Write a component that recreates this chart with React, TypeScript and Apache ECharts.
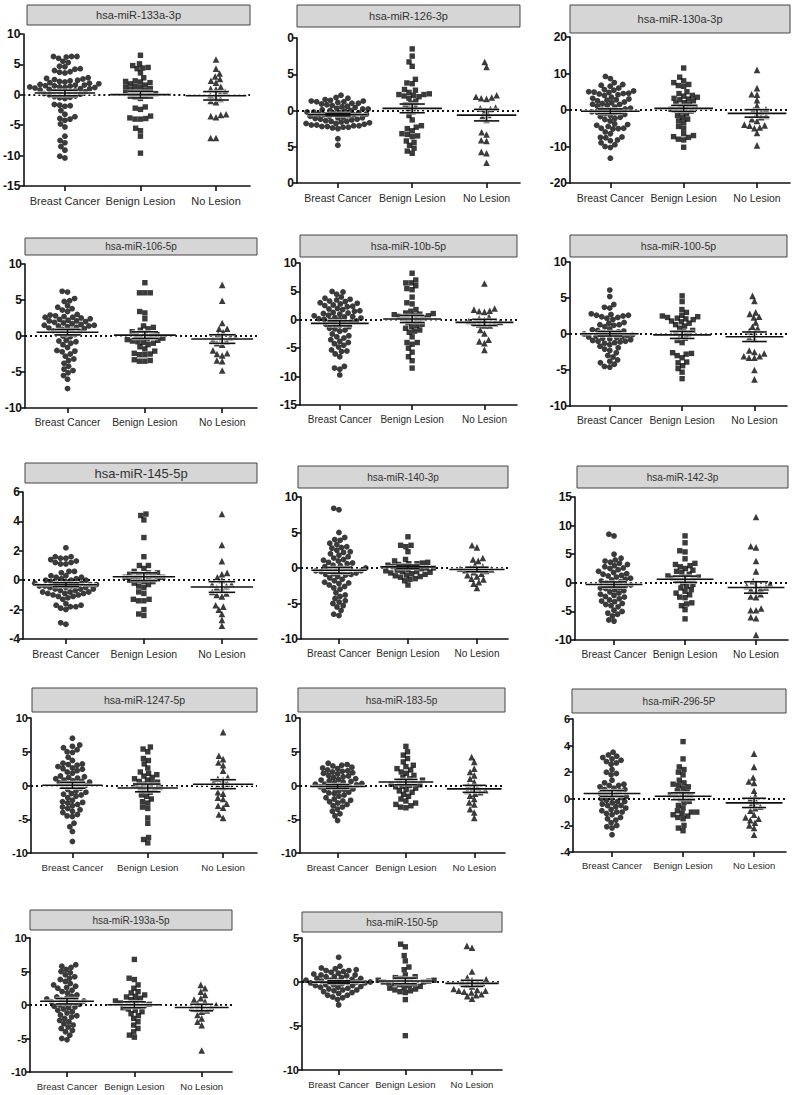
import React, { useEffect, useRef } from "react";
import * as echarts from "echarts";

const categories = ["Breast Cancer", "Benign Lesion", "No Lesion"];

const titles = [
  "hsa-miR-133a-3p", "hsa-miR-126-3p", "hsa-miR-130a-3p",
  "hsa-miR-106-5p", "hsa-miR-10b-5p", "hsa-miR-100-5p",
  "hsa-miR-145-5p", "hsa-miR-140-3p", "hsa-miR-142-3p",
  "hsa-miR-1247-5p", "hsa-miR-183-5p", "hsa-miR-296-5P",
  "hsa-miR-193a-5p", "hsa-miR-150-5p",
];

// y-axis ranges [min, max, interval]
const yMins = [-15, -10, -20, -10, -15, -10, -4, -10, -10, -10, -10, -4, -10, -10];
const yMaxs = [10, 10, 20, 10, 10, 10, 6, 10, 15, 10, 10, 6, 10, 5];
const yIntervals = [5, 5, 10, 5, 5, 5, 2, 5, 5, 5, 5, 2, 5, 5];

// ---- values (Breast Cancer / Benign Lesion / No Lesion) ----
const bc133a = [6.3,6.2,6.3,6.3,5.5,5.3,6.0,4.7,4.6,4.2,4.0,3.7,3.6,3.8,4.3,2.8,2.7,2.6,2.5,2.4,2.3,2.2,2.1,2.0,1.9,1.8,1.7,1.6,1.6,1.5,1.5,1.4,1.3,1.3,1.2,1.2,1.1,1.0,1.0,0.9,0.8,0.7,0.6,0.5,0.5,0.4,0.3,0.2,0.1,0.0,-0.2,-0.3,-0.4,-0.5,-0.6,-1.6,-1.7,-1.8,-1.9,-2.6,-3.2,-3.6,-3.9,-4.0,-4.2,-4.8,-5.3,-6.8,-7.5,-7.9,-8.5,-9.1,-10.1,-10.4];
const bl133a = [6.5,5.1,4.8,4.5,4.4,4.3,3.6,2.8,2.3,2.2,2.1,2.0,1.8,1.6,1.4,1.3,1.2,1.0,0.9,0.7,0.5,0.4,0.3,0.2,0.1,0.0,-0.2,-0.4,-0.6,-2.0,-2.2,-2.4,-3.5,-3.8,-3.9,-4.0,-4.0,-5.5,-5.9,-6.8,-9.6];
const nl133a = [5.8,4.3,3.5,2.6,2.3,2.0,3.0,1.3,1.0,0.9,0.5,0.2,-0.1,-0.3,-0.7,-1.0,-1.2,-3.2,-3.5,-3.7,-3.3,-7.1,-7.1];

const bc126 = [2.1,1.8,1.7,1.5,1.3,1.2,1.3,1.2,1.1,1.0,0.9,0.8,0.7,0.6,0.5,0.4,0.3,0.2,0.1,0.0,0.0,-0.1,-0.2,-0.2,-0.3,-0.4,-0.5,-0.5,-0.6,-0.7,-0.8,-0.8,-0.9,-1.0,-1.0,-1.1,-1.2,-1.3,-1.4,-1.5,-1.6,-1.7,-1.8,-1.9,-2.0,-2.1,-2.1,-2.2,-2.3,-2.3,-2.4,-2.5,-2.2,-1.8,-3.9,-4.8,1.4,1.0,0.2,-0.3,-0.6,-1.2,-1.5,-2.0];
const bl126 = [8.5,7.5,6.7,6.1,4.3,3.8,3.7,2.9,2.8,2.5,2.3,2.2,2.2,2.1,2.0,1.9,1.7,1.3,1.0,0.8,0.5,0.2,-0.2,-0.7,-1.3,-2.1,-2.3,-2.5,-2.8,-3.2,-3.3,-3.5,-3.6,-4.2,-4.4,-4.8,-5.2,-5.6,-5.9];
const nl126 = [6.7,6.0,2.1,1.9,1.8,1.7,1.6,0.4,0.3,0.2,0.0,-0.6,-0.8,-1.3,-3.0,-3.3,-4.1,-4.2,-5.7,-5.9,-7.2];

const bc130a = [9.2,8.6,7.5,7.0,6.8,6.5,6.0,5.6,5.2,5.0,4.8,4.6,4.5,4.4,4.2,4.0,3.5,3.2,3.0,2.8,2.5,2.2,2.0,1.8,1.5,1.2,1.0,0.8,0.5,0.3,0.0,-0.3,-0.5,-0.8,-1.0,-1.2,-1.5,-1.8,-2.0,-2.3,-2.6,-3.0,-3.8,-4.0,-4.2,-4.5,-5.0,-5.2,-5.1,-5.0,-6.0,-6.5,-7.5,-7.4,-7.6,-8.2,-8.4,-9.0,-9.5,-10.0,-10.3,-13.2,1.6,0.2,-0.6,4.9,5.4,2.7];
const bl130a = [11.5,9.0,8.0,7.5,7.0,6.5,6.7,5.0,4.5,4.0,3.8,3.5,3.2,3.0,2.8,2.5,2.0,1.8,1.5,1.0,0.5,0.0,-0.5,-1.0,-1.5,-2.0,-2.5,-3.0,-3.5,-4.5,-5.0,-6.5,-7.0,-7.3,-7.5,-8.0,-8.2,-10.2,0.8,0.2,-0.3];
const nl130a = [11.0,6.0,4.3,4.2,2.7,1.2,0.2,0.0,-0.5,-1.2,-1.6,-2.0,-2.5,-3.0,-4.0,-4.3,-4.2,-4.8,-5.0,-6.3,-9.7];

const bc106 = [6.2,6.1,5.2,4.8,4.9,4.2,4.0,3.8,3.6,3.4,3.0,2.9,2.8,2.7,2.6,2.5,2.4,2.3,2.2,2.1,2.0,1.9,1.8,1.7,1.6,1.5,1.5,1.4,1.3,1.2,1.1,1.0,0.9,0.8,0.6,0.5,0.4,0.2,0.0,-0.1,-0.6,-0.7,-0.8,-1.0,-1.2,-1.6,-2.0,-2.1,-2.2,-2.5,-2.8,-3.2,-3.4,-3.8,-4.2,-4.6,-4.8,-5.1,-5.5,-6.0,-7.3,2.6,1.4,2.1,0.7];
const bl106 = [7.4,6.0,6.0,6.0,3.4,3.2,2.4,1.4,1.2,1.0,0.8,0.6,0.4,0.2,0.0,-0.2,-0.4,-0.5,-0.6,-0.7,-0.8,-0.9,-1.0,-1.2,-1.5,-1.8,-2.1,-2.4,-2.5,-2.6,-2.6,-3.3,-3.4,-3.5,-3.5,0.1,-0.3];
const nl106 = [7.1,4.9,1.8,1.0,1.0,0.5,0.2,-0.1,-0.2,-0.3,-0.5,-0.8,-1.0,-1.2,-2.0,-2.5,-2.4,-2.7,-3.4,-3.5,-4.8];

const bc10b = [5.0,4.9,4.5,4.0,3.8,3.5,3.3,3.2,3.0,2.8,2.6,2.5,2.3,2.0,1.8,1.5,1.3,1.2,1.0,0.8,0.6,0.5,0.3,0.2,0.1,0.0,-0.2,-0.3,-0.5,-0.8,-1.0,-1.5,-1.6,-1.8,-2.0,-2.5,-2.8,-3.0,-3.2,-3.5,-3.8,-4.2,-4.5,-4.8,-5.3,-5.5,-5.6,-6.0,-6.5,-8.2,-8.5,-8.7,-9.7,1.6,0.4,2.4,1.1,-0.1,0.7,3.6,2.9,1.9,-0.6,-4.0,-1.2];
const bl10b = [8.2,7.0,6.5,6.5,6.0,5.5,5.3,4.0,3.0,2.8,1.8,1.5,1.2,1.0,0.8,0.6,0.5,0.3,0.2,0.0,-0.2,-0.5,-0.8,-1.0,-1.2,-1.5,-1.8,-2.0,-2.2,-3.0,-4.0,-4.3,-4.0,-5.0,-5.7,-6.5,-7.2,-8.5,1.1,0.7,0.9];
const nl10b = [6.4,2.0,1.8,1.6,1.5,1.4,0.5,0.2,0.0,-0.2,-0.4,-0.5,-0.6,-0.8,-1.0,-1.0,-1.8,-2.4,-3.5,-3.8,-4.1,-5.3];

const bc100 = [6.1,5.2,4.1,3.6,3.7,2.8,2.7,2.6,2.5,2.4,2.3,2.2,2.0,1.6,1.5,1.3,1.2,1.0,0.7,0.5,0.4,0.3,0.2,0.1,0.0,-0.1,-0.2,-0.3,-0.4,-0.5,-0.6,-0.7,-0.8,-0.9,-1.0,-1.1,-1.2,-1.3,-1.5,-1.7,-1.9,-2.1,-2.3,-2.6,-3.0,-3.2,-3.6,-3.8,-4.0,-4.2,-4.5,-4.6,2.6,0.6,-0.4,-1.0,1.3,0.0];
const bl100 = [5.3,4.5,3.4,3.0,2.6,2.5,2.4,2.3,2.2,2.1,2.0,1.8,1.5,1.3,1.1,0.8,0.5,0.3,0.0,-0.3,-0.6,-0.9,-1.2,-2.6,-2.7,-2.8,-3.0,-3.3,-3.9,-4.0,-4.4,-4.8,-5.3,-6.2,0.1,1.7];
const nl100 = [5.3,4.6,3.0,2.8,2.4,2.3,1.6,1.0,0.8,0.4,0.2,-0.5,-0.7,-2.3,-2.7,-3.1,-3.3,-3.3,-3.1,-2.5,-5.0,-6.3];

const bc145 = [2.2,1.6,1.6,1.5,1.5,1.4,1.3,1.2,1.2,1.1,1.1,0.6,0.6,0.5,0.3,0.2,0.2,0.1,0.0,0.0,-0.1,-0.1,-0.2,-0.2,-0.3,-0.3,-0.3,-0.4,-0.4,-0.5,-0.5,-0.6,-0.6,-0.7,-0.7,-0.8,-0.8,-0.9,-0.9,-1.0,-1.0,-1.1,-1.2,-1.3,-1.6,-1.7,-1.8,-1.9,-2.0,-1.8,-1.7,-2.9,-3.0,0.1,-0.2,-0.4,-0.6,-0.8,0.3,-0.3,-0.5,-1.1,-0.9,0.0];
const bl145 = [4.5,4.4,4.1,2.9,1.6,1.0,1.0,0.8,0.6,0.5,0.5,0.4,0.3,0.3,0.2,0.2,0.1,0.1,0.0,0.0,-0.1,-0.2,-0.3,-0.4,-0.5,-0.9,-0.8,-1.3,-1.4,-1.4,-1.3,-2.0,-2.3,-2.4,0.4,0.2,-0.1];
const nl145 = [4.5,2.4,1.3,0.5,0.4,0.2,0.0,-0.3,-0.4,-0.5,-0.6,-0.8,-0.9,-1.0,-1.1,-1.7,-1.8,-2.0,-2.3,-2.7,-3.1,-0.3];

const bc140 = [8.2,8.4,5.0,4.3,4.0,3.9,3.5,3.3,3.0,2.8,2.5,2.3,2.2,2.0,1.8,1.6,1.4,1.2,1.0,0.8,0.6,0.4,0.2,0.0,-0.1,-0.2,-0.3,-0.4,-0.5,-0.6,-0.7,-0.8,-0.9,-1.0,-1.2,-1.4,-1.6,-2.0,-2.1,-2.2,-2.4,-2.6,-2.8,-3.0,-3.5,-3.8,-4.0,-4.3,-4.6,-4.8,-5.0,-5.3,-5.5,-6.0,-6.5,-6.7,0.3,-0.4,-0.9,1.1,2.9,-1.8,0.7,-0.1];
const bl140 = [4.4,3.2,3.2,3.0,2.3,1.2,1.0,0.8,0.7,0.6,0.5,0.4,0.3,0.2,0.1,0.0,-0.1,-0.2,-0.3,-0.4,-0.5,-0.6,-0.7,-0.8,-0.9,-1.0,-1.1,-1.2,-1.3,-1.5,-1.6,-1.8,-2.4,0.0,-0.5,0.6];
const nl140 = [3.2,2.9,1.4,1.2,1.0,0.4,0.2,0.0,-0.1,-0.2,-0.3,-0.4,-0.6,-0.8,-1.0,-1.2,-1.5,-1.6,-2.0,-2.2,-2.8,-0.2];

const bc142 = [8.5,8.2,5.0,4.3,4.0,3.8,3.6,3.4,3.2,3.0,2.8,2.5,2.3,2.0,1.8,1.5,1.2,1.0,0.8,0.5,0.3,0.0,-0.2,-0.4,-0.6,-0.8,-1.0,-1.2,-1.4,-1.6,-1.8,-2.0,-2.2,-2.5,-2.8,-3.0,-3.3,-3.6,-3.8,-4.0,-4.2,-4.8,-5.0,-5.3,-5.5,-5.8,-6.5,-6.7,0.2,-0.5,1.3,2.6,-2.4,-0.9,0.6,-3.2,1.6];
const bl142 = [8.2,7.0,5.6,5.4,4.2,3.4,3.2,3.0,2.8,2.5,2.2,2.0,1.8,1.5,1.2,1.0,0.8,0.5,0.3,0.0,-0.3,-0.6,-0.9,-1.2,-1.5,-1.8,-2.1,-2.5,-2.6,-3.5,-3.7,-4.0,-4.7,-6.3,0.7,1.0];
const nl142 = [11.5,6.4,6.2,3.8,2.0,0.3,-0.2,-0.5,-0.6,-0.8,-1.0,-1.2,-1.5,-2.0,-2.4,-2.5,-4.5,-4.8,-4.8,-6.0,-6.2,-9.1];

const bc1247 = [7.0,6.0,5.8,5.6,5.3,5.0,4.9,4.2,3.7,3.3,3.2,3.1,3.0,2.8,2.6,2.4,2.2,2.0,1.8,1.4,1.3,1.2,1.0,0.8,0.6,0.5,0.4,0.2,0.0,-0.2,-0.4,-0.6,-0.8,-1.0,-1.2,-1.4,-1.6,-1.8,-2.2,-2.4,-2.6,-2.8,-3.0,-3.2,-3.4,-3.6,-3.8,-4.0,-4.3,-4.5,-4.6,-5.6,-6.1,-6.8,-8.3,0.3,-0.1,1.1,-1.3,2.5,0.7,-2.5];
const bl1247 = [5.7,5.4,5.0,4.0,3.7,3.2,2.6,2.0,1.8,1.6,1.4,1.2,1.0,0.8,0.6,0.4,0.2,0.0,-0.2,-0.4,-0.6,-0.8,-1.0,-1.4,-1.6,-2.0,-2.4,-2.6,-3.2,-3.4,-4.8,-5.6,-7.7,-8.0,-8.5,0.5,-0.3];
const nl1247 = [7.9,4.4,3.9,3.4,3.0,2.2,1.2,1.0,0.8,0.5,0.3,0.0,-0.2,-1.0,-1.2,-1.8,-2.0,-2.7,-3.0,-3.3,-4.3,-4.8];

const bc183 = [3.3,3.1,3.0,2.9,2.7,2.6,2.5,2.3,2.1,2.0,1.9,1.7,1.5,1.3,1.2,1.0,0.9,0.8,0.6,0.5,0.4,0.3,0.2,0.1,0.0,-0.1,-0.2,-0.3,-0.5,-0.6,-0.8,-1.0,-1.2,-1.4,-1.6,-1.8,-2.0,-2.2,-2.4,-2.6,-2.8,-3.0,-3.2,-3.5,-3.8,-4.2,-4.5,-5.2,0.7,-0.4,1.4,-1.1,2.2,0.2,-2.3,1.8,-0.7];
const bl183 = [5.8,5.0,4.5,4.0,3.5,3.0,2.8,2.5,2.3,2.0,1.8,1.5,1.2,1.0,0.8,0.6,0.4,0.2,0.0,-0.2,-0.4,-0.6,-0.8,-1.0,-1.3,-1.6,-2.0,-2.3,-2.6,-2.8,-3.0,-3.2,-3.3,0.1,0.5,-0.1];
const nl183 = [4.2,3.5,2.5,2.0,1.5,1.0,0.5,0.0,-0.3,-0.5,-0.7,-1.0,-1.2,-1.5,-2.0,-2.5,-2.8,-3.5,-4.0,-4.8,-0.8];

const bc296 = [3.5,3.3,3.2,3.1,3.0,2.9,2.8,2.7,2.6,2.2,2.0,1.9,1.8,1.4,1.2,1.1,1.0,0.9,0.8,0.7,0.6,0.5,0.4,0.3,0.2,0.1,0.0,-0.1,-0.2,-0.3,-0.4,-0.5,-0.6,-0.7,-0.8,-0.9,-1.0,-1.1,-1.2,-1.4,-1.5,-1.6,-1.8,-2.0,-2.1,-2.2,-2.7,0.3,-0.2,0.7,-0.5,1.0,-1.0,0.1];
const bl296 = [4.3,3.0,2.4,2.2,2.0,1.8,1.4,1.2,1.1,1.0,0.9,0.8,0.6,0.5,0.4,0.3,0.2,0.1,0.0,-0.2,-0.3,-0.5,-0.7,-0.9,-1.0,-1.1,-1.2,-1.3,-1.4,-1.5,-2.0,-2.2,-2.4,0.2,-1.0];
const nl296 = [3.4,2.4,1.6,1.3,1.2,0.6,0.2,0.0,-0.2,-0.4,-0.6,-0.9,-1.2,-1.4,-1.5,-1.6,-2.0,-2.2,-2.7,-0.7,-1.8];

const bc193a = [6.0,5.8,5.6,5.3,5.0,4.8,4.5,4.2,4.0,3.8,3.5,3.2,3.0,2.8,2.5,2.2,2.0,1.8,1.5,1.3,1.0,0.8,0.6,0.5,0.4,0.2,0.0,-0.2,-0.4,-0.6,-0.8,-1.0,-1.2,-1.5,-1.8,-2.0,-2.3,-2.5,-2.8,-3.0,-3.3,-3.5,-3.8,-4.0,-4.5,-5.0,-5.2,0.7,-0.3,1.2,2.6,-1.6,0.1,0.9];
const bl193a = [6.8,4.0,3.8,3.0,2.5,2.0,1.8,1.5,1.2,1.0,0.8,0.5,0.3,0.2,0.0,-0.2,-0.4,-0.6,-0.8,-1.0,-1.3,-1.6,-2.0,-2.5,-3.0,-3.5,-4.0,-4.5,-4.8,0.1,0.6,-0.1,1.3];
const nl193a = [3.0,2.5,2.0,1.5,1.0,0.5,0.2,0.0,-0.2,-0.4,-0.6,-0.8,-1.0,-1.5,-2.0,-2.5,-3.0,-6.8,-0.3,0.8];

const bc150 = [2.8,1.8,1.6,1.5,1.4,1.3,1.2,1.1,1.0,0.9,0.8,0.7,0.6,0.5,0.4,0.3,0.2,0.1,0.0,0.0,-0.1,-0.2,-0.3,-0.4,-0.5,-0.6,-0.7,-0.8,-0.9,-1.0,-1.1,-1.2,-1.3,-1.5,-1.7,-1.8,-2.0,-2.6,0.2,-0.3,0.6,-0.6,0.1,-0.1,0.4,-0.4,1.3,-1.5,0.0,0.8,-0.9];
const bl150 = [4.3,4.0,3.0,2.4,1.7,1.4,0.8,0.6,0.5,0.4,0.3,0.2,0.1,0.0,0.0,-0.1,-0.2,-0.3,-0.4,-0.5,-0.6,-0.7,-0.8,-0.9,-1.0,-1.1,-1.2,-2.0,-6.1,0.2,-0.2,0.1];
const nl150 = [4.1,3.9,1.2,0.5,0.3,0.2,0.0,-0.1,-0.2,-0.3,-0.5,-0.8,-1.0,-1.0,-1.1,-1.2,-1.4,-1.5,-1.6,-1.9,-0.9];

const panelValues = [
  [bc133a, bl133a, nl133a], [bc126, bl126, nl126], [bc130a, bl130a, nl130a],
  [bc106, bl106, nl106], [bc10b, bl10b, nl10b], [bc100, bl100, nl100],
  [bc145, bl145, nl145], [bc140, bl140, nl140], [bc142, bl142, nl142],
  [bc1247, bl1247, nl1247], [bc183, bl183, nl183], [bc296, bl296, nl296],
  [bc193a, bl193a, nl193a], [bc150, bl150, nl150],
];

// ---- layout (pixels): grid left/top/right/bottom, title box, font sizes ----
const layouts = [
  { l: 22, t: 34, r: 250, b: 186, bx: 27, by: 5, bw: 223, bh: 20, tf: 11, cf: 11, yf: 12 },
  { l: 297, t: 38, r: 520, b: 183, bx: 297, by: 5, bw: 223, bh: 22, tf: 11, cf: 10.5, yf: 12 },
  { l: 570, t: 37, r: 790, b: 183, bx: 570, by: 5, bw: 220, bh: 28, tf: 11, cf: 10.5, yf: 12 },
  { l: 25, t: 264, r: 257, b: 408, bx: 25, by: 238, bw: 232, bh: 17, tf: 10, cf: 10.3, yf: 12 },
  { l: 300, t: 263, r: 517, b: 405, bx: 300, by: 235, bw: 217, bh: 22, tf: 10.5, cf: 10, yf: 12 },
  { l: 570, t: 262, r: 787, b: 406, bx: 570, by: 235, bw: 217, bh: 22, tf: 10.5, cf: 10.3, yf: 12 },
  { l: 23, t: 492, r: 257, b: 639, bx: 25, by: 463, bw: 232, bh: 20, tf: 13, cf: 10.5, yf: 12 },
  { l: 301, t: 497, r: 508, b: 639, bx: 298, by: 466, bw: 210, bh: 22, tf: 10, cf: 10, yf: 12 },
  { l: 575, t: 497, r: 788, b: 640, bx: 577, by: 466, bw: 211, bh: 22, tf: 10, cf: 10.2, yf: 12 },
  { l: 31, t: 718, r: 257, b: 853, bx: 32, by: 688, bw: 225, bh: 24, tf: 10.5, cf: 9.7, yf: 11 },
  { l: 300, t: 718, r: 505, b: 853, bx: 298, by: 688, bw: 207, bh: 24, tf: 10, cf: 9.7, yf: 11 },
  { l: 573, t: 719, r: 786, b: 852, bx: 572, by: 689, bw: 214, bh: 24, tf: 10, cf: 9.4, yf: 11 },
  { l: 30, t: 938, r: 232, b: 1072, bx: 30, by: 910, bw: 202, bh: 20, tf: 10, cf: 9.5, yf: 11 },
  { l: 302, t: 938, r: 502, b: 1070, bx: 302, by: 912, bw: 200, bh: 20, tf: 10, cf: 9.5, yf: 11 },
];

const symbols = ["circle", "rect", "triangle"];
const symbolSizes = [5.8, 5.4, 6.6];
const SWARM_GAP = 5.4;
const FONT = "'Liberation Sans', Arial, sans-serif";
const X_MIN = -0.55;
const X_MAX = 2.45;

// beeswarm placement: offsets (in x data units) so that markers don't overlap
function swarm(values: number[], pxPerX: number, pxPerY: number, d: number): number[] {
  const order = values.map((_, i) => i).sort((a, b) => values[a] - values[b]);
  const placed: { x: number; y: number }[] = [];
  const out: number[] = new Array(values.length).fill(0);
  for (const i of order) {
    const y = values[i] * pxPerY;
    const blocks: [number, number][] = [];
    for (const p of placed) {
      const dy = Math.abs(p.y - y);
      if (dy < d) {
        const w = Math.sqrt(d * d - dy * dy);
        blocks.push([p.x - w, p.x + w]);
      }
    }
    const cands = [0];
    blocks.forEach((bk) => cands.push(bk[0], bk[1]));
    cands.sort((a, b) => Math.abs(a) - Math.abs(b) || a - b);
    let x = 0;
    for (const c of cands) {
      if (blocks.every((bk) => c <= bk[0] + 1e-6 || c >= bk[1] - 1e-6)) {
        x = c;
        break;
      }
    }
    placed.push({ x, y });
    out[i] = x / pxPerX;
  }
  return out;
}

function meanSem(v: number[]) {
  const n = v.length;
  const m = v.reduce((s, a) => s + a, 0) / n;
  const sd = Math.sqrt(v.reduce((s, a) => s + (a - m) * (a - m), 0) / (n - 1));
  return [m, sd / Math.sqrt(n)];
}

function buildOption() {
  const grid: any[] = [];
  const xAxis: any[] = [];
  const yAxis: any[] = [];
  const series: any[] = [];
  const graphic: any[] = [];

  layouts.forEach((L, k) => {
    const W = L.r - L.l;
    const H = L.b - L.t;
    grid.push({ left: L.l, top: L.t, width: W, height: H });
    xAxis.push({
      type: "value",
      gridIndex: k,
      min: X_MIN,
      max: X_MAX,
      axisLine: { onZero: false, lineStyle: { color: "#111", width: 1.6 } },
      axisTick: { show: true, customValues: [0, 1, 2], length: 5, lineStyle: { color: "#111", width: 1.6 } },
      axisLabel: {
        show: true,
        customValues: [0, 1, 2],
        formatter: (v: number) => categories[Math.round(v)] ?? "",
        color: "#2a2a2a",
        fontFamily: FONT,
        fontSize: L.cf,
        margin: 9,
      },
      splitLine: { show: false },
    });
    yAxis.push({
      type: "value",
      gridIndex: k,
      min: yMins[k],
      max: yMaxs[k],
      interval: yIntervals[k],
      axisLine: { show: true, onZero: false, lineStyle: { color: "#111", width: 1.6 } },
      axisTick: { show: true, length: 4, lineStyle: { color: "#111", width: 1.6 } },
      axisLabel: {
        color: "#111",
        fontWeight: "bold",
        fontFamily: FONT,
        fontSize: L.yf,
        margin: 3,
        formatter: k === 1 ? (v: number) => String(Math.abs(v)).slice(-1) : (v: number) => String(v),
      },
      splitLine: { show: false },
    });

    const pxPerX = W / (X_MAX - X_MIN);
    const pxPerY = H / (yMaxs[k] - yMins[k]);
    const stats: number[][] = [];
    panelValues[k].forEach((vals, g) => {
      const offs = swarm(vals, pxPerX, pxPerY, SWARM_GAP);
      const s: any = {
        type: "scatter",
        xAxisIndex: k,
        yAxisIndex: k,
        symbol: symbols[g],
        symbolSize: symbolSizes[g],
        itemStyle: { color: "#0a0a0a" },
        data: vals.map((v, i) => [g + offs[i], v]),
        z: 2,
      };
      if (g === 0) {
        s.markLine = {
          silent: true,
          symbol: ["none", "none"],
          label: { show: false },
          lineStyle: { color: "#111", type: [2, 3], width: 2 },
          data: [{ yAxis: 0 }],
          z: 1,
        };
      }
      series.push(s);
      const [m, se] = meanSem(vals);
      stats.push([g, m, se]);
    });

    series.push({
      type: "custom",
      xAxisIndex: k,
      yAxisIndex: k,
      z: 5,
      encode: { x: 0, y: 1 },
      data: stats,
      renderItem: (params: any, api: any) => {
        const g = api.value(0);
        const m = api.value(1);
        const s = api.value(2);
        const a = api.coord([g - 0.4, m]);
        const b = api.coord([g + 0.4, m]);
        const t = api.coord([g, m + s]);
        const u = api.coord([g, m - s]);
        const c1 = api.coord([g - 0.17, m + s]);
        const c2 = api.coord([g + 0.17, m + s]);
        const c3 = api.coord([g - 0.17, m - s]);
        const c4 = api.coord([g + 0.17, m - s]);
        const segs = [
          [a, b],
          [t, u],
          [c1, c2],
          [c3, c4],
        ];
        const children: any[] = [];
        segs.forEach((sg) =>
          children.push({
            type: "line",
            shape: { x1: sg[0][0], y1: sg[0][1], x2: sg[1][0], y2: sg[1][1] },
            style: { stroke: "#ffffff", lineWidth: 3.4, opacity: 0.7 },
          })
        );
        segs.forEach((sg) =>
          children.push({
            type: "line",
            shape: { x1: sg[0][0], y1: sg[0][1], x2: sg[1][0], y2: sg[1][1] },
            style: { stroke: "#111", lineWidth: 1.6 },
          })
        );
        return { type: "group", children };
      },
    });

    graphic.push({
      type: "rect",
      shape: { x: L.bx, y: L.by, width: L.bw, height: L.bh },
      style: { fill: "#d6d6d6", stroke: "#444", lineWidth: 1 },
      z: 10,
    });
    graphic.push({
      type: "text",
      x: L.bx + L.bw / 2,
      y: L.by + L.bh / 2,
      style: {
        text: titles[k],
        fill: "#333",
        font: `${L.tf}px ${FONT}`,
        align: "center",
        verticalAlign: "middle",
      },
      z: 11,
    });
  });

  return {
    animation: false,
    backgroundColor: "#ffffff",
    grid,
    xAxis,
    yAxis,
    series,
    graphic,
  };
}

export default function App() {
  const ref = useRef<HTMLDivElement>(null);
  useEffect(() => {
    if (!ref.current) return;
    const chart = echarts.init(ref.current, undefined, { renderer: "svg" });
    chart.setOption(buildOption() as any);
    return () => chart.dispose();
  }, []);
  return (
    <div
      ref={ref}
      style={{ position: "absolute", left: 0, top: 0, width: 800, height: 1095, background: "#fff" }}
    />
  );
}
